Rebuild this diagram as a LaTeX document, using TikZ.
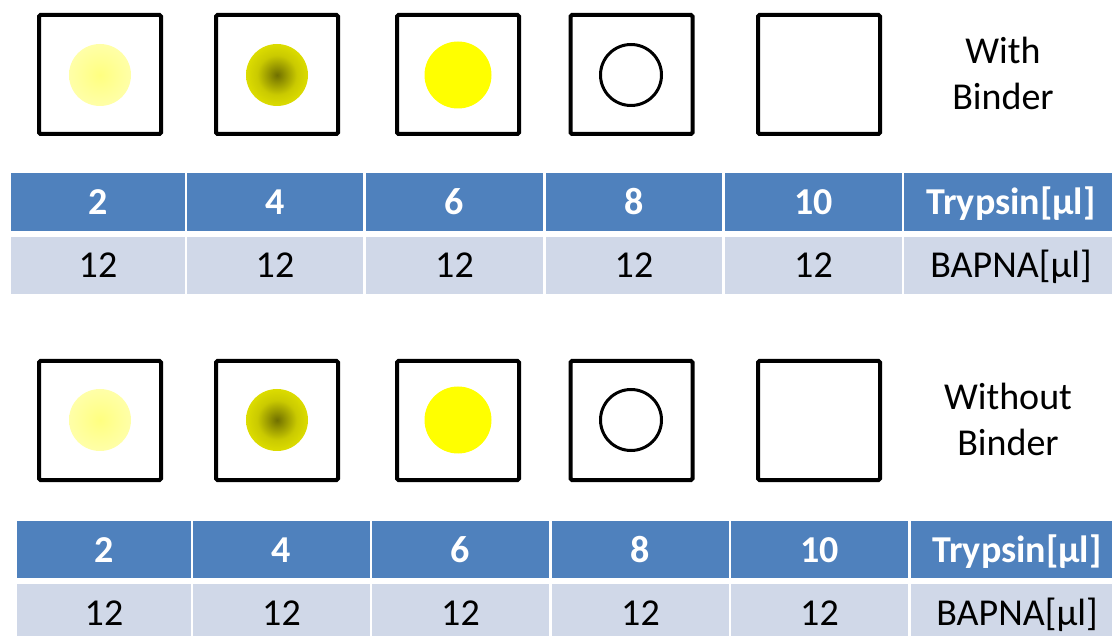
\documentclass[tikz,border=0pt]{standalone}
\usepackage{fontspec}
\setmainfont{Carlito}
\definecolor{hdrblue}{HTML}{4F81BD}
\definecolor{rowgray}{HTML}{D0D8E8}
\definecolor{paleIn}{HTML}{FFFF80}
\definecolor{paleOut}{HTML}{FFFFD0}
\definecolor{darkIn}{HTML}{707000}
\definecolor{darkMid}{HTML}{CACA00}
\definecolor{darkOut}{HTML}{EEEE00}
\definecolor{fullYellow}{HTML}{FFFF00}
\pgfdeclareradialshading{palespot}{\pgfpoint{0bp}{0bp}}{color(0bp)=(paleIn); color(50bp)=(paleOut); color(72bp)=(paleOut)}
\pgfdeclareradialshading{darkspot}{\pgfpoint{0bp}{0bp}}{color(0bp)=(darkIn); color(16bp)=(darkMid); color(34bp)=(darkOut); color(72bp)=(darkOut)}
\tikzset{
  bigfont/.style={font=\fontsize{38}{46}\selectfont},
  wellbox/.style={draw=black, line width=4pt, rounded corners=1.5pt, minimum width=122pt, minimum height=119pt, inner sep=0pt, fill=white},
  spot/.style={circle, inner sep=0pt, minimum size=62pt},
  ring/.style={circle, draw=black, line width=3pt, inner sep=0pt, minimum size=61pt},
  hcell/.style={fill=hdrblue, text=white, font=\fontsize{38}{46}\selectfont\bfseries, inner sep=0pt, text height=25pt, text depth=0pt},
  rcell/.style={fill=rowgray, text=black, font=\fontsize{38}{46}\selectfont, inner sep=0pt, text height=25pt, text depth=0pt},
  lbl/.style={bigfont, align=center, inner sep=0pt}
}
\begin{document}
\begin{tikzpicture}[x=1pt, y=-1pt]
\clip (0,0) rectangle (1112,636);
\fill[white] (0,0) rectangle (1112,636);

% ---- top wells (with binder)
\node[wellbox] (ta) at (100,74.5) {};
\node[wellbox] (tb) at (277,74.5) {};
\node[wellbox] (tc) at (458,74.5) {};
\node[wellbox] (td) at (631.5,74.5) {};
\node[wellbox] (te) at (819,74.5) {};
\node[spot, shading=palespot] (tsa) at (100,75) {};
\node[spot, shading=darkspot] (tsb) at (277,75) {};
\node[spot, fill=fullYellow, minimum size=67pt] (tsc) at (458,75) {};
\node[ring] (tsd) at (631,75) {};
\node[lbl, anchor=base] (wb) at (1003,110) {With\\Binder};

% ---- table 1
\node[hcell, minimum width=174pt, minimum height=58pt] (h1a) at (98,202) {2};
\node[hcell, minimum width=176pt, minimum height=58pt] (h1b) at (275,202) {4};
\node[hcell, minimum width=177pt, minimum height=58pt] (h1c) at (454.5,202) {6};
\node[hcell, minimum width=176pt, minimum height=58pt] (h1d) at (634,202) {8};
\node[hcell, minimum width=177pt, minimum height=58pt] (h1e) at (813.5,202) {10};
\node[hcell, minimum width=214pt, minimum height=58pt] (h1f) at (1011,202) {Trypsin[µl]};
\node[rcell, minimum width=174pt, minimum height=57pt] (r1a) at (98,265.5) {12};
\node[rcell, minimum width=176pt, minimum height=57pt] (r1b) at (275,265.5) {12};
\node[rcell, minimum width=177pt, minimum height=57pt] (r1c) at (454.5,265.5) {12};
\node[rcell, minimum width=176pt, minimum height=57pt] (r1d) at (634,265.5) {12};
\node[rcell, minimum width=177pt, minimum height=57pt] (r1e) at (813.5,265.5) {12};
\node[rcell, minimum width=214pt, minimum height=57pt] (r1f) at (1011,265.5) {BAPNA[µl]};

% ---- bottom wells (without binder)
\node[wellbox] (ba) at (100,420.5) {};
\node[wellbox] (bb) at (277,420.5) {};
\node[wellbox] (bc) at (458,420.5) {};
\node[wellbox] (bd) at (631.5,420.5) {};
\node[wellbox] (be) at (819,420.5) {};
\node[spot, shading=palespot] (bsa) at (100,420) {};
\node[spot, shading=darkspot] (bsb) at (277,420) {};
\node[spot, fill=fullYellow, minimum size=67pt] (bsc) at (458,420) {};
\node[ring] (bsd) at (631,420) {};
\node[lbl, anchor=base] (wob) at (1008,455) {Without\\Binder};

% ---- table 2
\node[hcell, minimum width=174pt, minimum height=57pt] (h2a) at (104,549.5) {2};
\node[hcell, minimum width=177pt, minimum height=57pt] (h2b) at (281.5,549.5) {4};
\node[hcell, minimum width=177pt, minimum height=57pt] (h2c) at (460.5,549.5) {6};
\node[hcell, minimum width=177pt, minimum height=57pt] (h2d) at (640.5,549.5) {8};
\node[hcell, minimum width=177pt, minimum height=57pt] (h2e) at (819.5,549.5) {10};
\node[hcell, minimum width=212pt, minimum height=57pt] (h2f) at (1017,549.5) {Trypsin[µl]};
\node[rcell, minimum width=174pt, minimum height=57pt] (r2a) at (104,612.5) {12};
\node[rcell, minimum width=177pt, minimum height=57pt] (r2b) at (281.5,612.5) {12};
\node[rcell, minimum width=177pt, minimum height=57pt] (r2c) at (460.5,612.5) {12};
\node[rcell, minimum width=177pt, minimum height=57pt] (r2d) at (640.5,612.5) {12};
\node[rcell, minimum width=177pt, minimum height=57pt] (r2e) at (819.5,612.5) {12};
\node[rcell, minimum width=212pt, minimum height=57pt] (r2f) at (1017,612.5) {BAPNA[µl]};
\end{tikzpicture}
\end{document}
